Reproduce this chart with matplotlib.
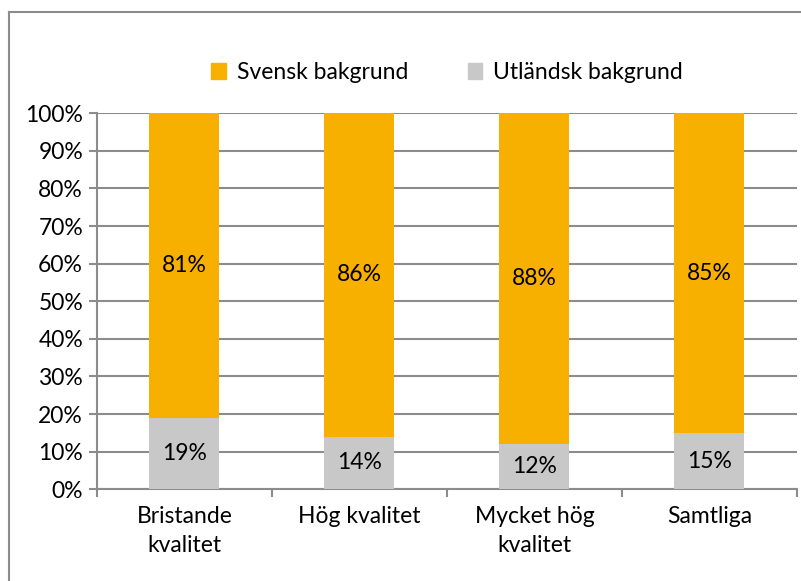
import matplotlib
matplotlib.use('Agg')
import matplotlib.pyplot as plt
import matplotlib.patches as mpatches
import matplotlib.lines as mlines
import numpy as np

plt.rcParams['font.family'] = ['Lato', 'DejaVu Sans']

categories = ['Bristande\nkvalitet', 'Hög kvalitet', 'Mycket hög\nkvalitet', 'Samtliga']
svensk = [81, 86, 88, 85]
utlandsk = [19, 14, 12, 15]
yticks = np.arange(0, 101, 10)

ORANGE = '#F8B000'
GREY = '#C8C8C8'
LINE = '#8C8C8C'
FS = 16.5

fig = plt.figure(figsize=(8.01, 5.81), dpi=100)
ax = fig.add_axes([0.121, 0.158, 0.874, 0.647])

x = np.arange(len(categories))
w = 0.4
ax.bar(x, utlandsk, width=w, color=GREY, zorder=3, label='Utländsk bakgrund')
ax.bar(x, svensk, width=w, bottom=utlandsk, color=ORANGE, zorder=3, label='Svensk bakgrund')

for xi, u, s in zip(x, utlandsk, svensk):
    ax.text(xi, u / 2, f'{u}%', ha='center', va='center', fontsize=FS, zorder=4)
    ax.text(xi, u + s / 2, f'{s}%', ha='center', va='center', fontsize=FS, zorder=4)

ax.set_xlim(-0.5, len(categories) - 0.5)
ax.set_ylim(0, 100)
ax.set_yticks(yticks)
ax.set_yticklabels([f'{t}%' for t in yticks], fontsize=FS)
ax.set_xticks(x)
ax.set_xticklabels(categories, fontsize=FS, linespacing=1.5)
ax.set_xticks(np.arange(-0.5, len(categories)), minor=True)
ax.tick_params(axis='x', which='major', length=0, pad=12)
ax.tick_params(axis='x', which='minor', length=6, width=1.5, color=LINE)
ax.tick_params(axis='y', length=6, width=1.5, color=LINE, pad=4)
ax.grid(axis='y', color=LINE, linewidth=1.5, zorder=0)
for side in ['top', 'right']:
    ax.spines[side].set_visible(False)
for side in ['left', 'bottom']:
    ax.spines[side].set_color(LINE)
    ax.spines[side].set_linewidth(1.5)

handles = [mpatches.Patch(color=ORANGE, label='Svensk bakgrund'),
           mpatches.Patch(color=GREY, label='Utländsk bakgrund')]
ax.legend(handles=handles, loc='center', bbox_to_anchor=(0.5, 1.108), ncol=2,
          frameon=False, fontsize=FS, handlelength=0.65, handleheight=0.65,
          handletextpad=0.45, columnspacing=2.6)

# chart frame: only top and left edges fall inside the image
fig.add_artist(mlines.Line2D([0.0118, 1.0], [0.980, 0.980], transform=fig.transFigure,
                             color=LINE, linewidth=1.5))
fig.add_artist(mlines.Line2D([0.0118, 0.0118], [0.0, 0.980], transform=fig.transFigure,
                             color=LINE, linewidth=1.5))

fig.savefig('out.png', dpi=100)
